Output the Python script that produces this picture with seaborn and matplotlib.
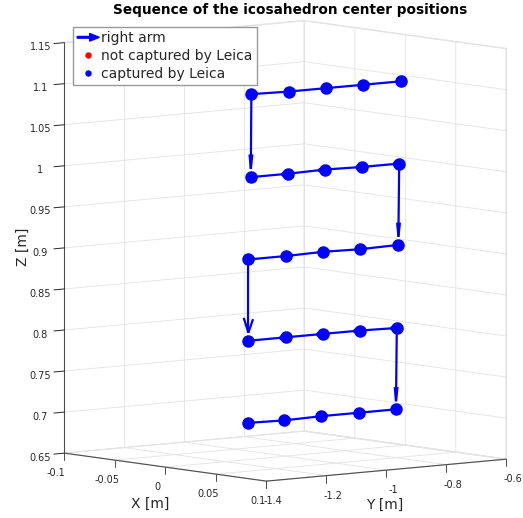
import numpy as np
import matplotlib
matplotlib.use("Agg")
import matplotlib.pyplot as plt
import seaborn as sns
from matplotlib.legend_handler import HandlerBase
from matplotlib.patches import FancyArrow
from matplotlib.ticker import FormatStrFormatter
from mpl_toolkits.mplot3d import proj3d

# Icosahedron center positions in acquisition order (snake over five levels)
pos_x = [0.04] * 25
pos_y = [-0.750, -0.875, -0.999, -1.122, -1.248,
         -1.250, -1.127, -1.004, -0.879, -0.755,
         -0.758, -0.885, -1.008, -1.131, -1.258,
         -1.258, -1.133, -1.010, -0.887, -0.763,
         -0.766, -0.890, -1.015, -1.138, -1.260]
pos_z = [1.105, 1.105, 1.105, 1.105, 1.106,
         1.005, 1.005, 1.006, 1.005, 1.005,
         0.906, 0.905, 0.906, 0.905, 0.905,
         0.806, 0.806, 0.806, 0.806, 0.805,
         0.706, 0.706, 0.706, 0.705, 0.706]
captured = [True] * 25

x_ticks = [-0.1, -0.05, 0, 0.05, 0.1]
y_ticks = [-1.4, -1.2, -1.0, -0.8, -0.6]
z_ticks = [0.65, 0.7, 0.75, 0.8, 0.85, 0.9, 0.95, 1.0, 1.05, 1.1, 1.15]

W, H, DPI = 523, 518, 100
grid_color = (0.89, 0.89, 0.89)
axis_color = (0.3, 0.3, 0.3)
text_color = (0.15, 0.15, 0.15)

sns.set_theme(style="white", rc={
    "grid.color": grid_color,
    "grid.linewidth": 0.6,
    "axes.edgecolor": axis_color,
    "xtick.color": text_color,
    "ytick.color": text_color,
    "xtick.major.width": 0.7,
    "ytick.major.width": 0.7,
    "axes.labelcolor": text_color,
})
plt.rcParams["font.family"] = ["DejaVu Sans"]

fig = plt.figure(figsize=(W / DPI, H / DPI), dpi=DPI)
ax = fig.add_subplot(projection="3d", proj_type="ortho")
ax.set_box_aspect((320, 309, 413))
ax.view_init(elev=6.47, azim=-39.1)

px = np.array(pos_x)
py = np.array(pos_y)
pz = np.array(pos_z)
cap = np.array(captured)

# arrows between consecutive positions
du, dv, dw = np.diff(px), np.diff(py), np.diff(pz)
vert = np.abs(dw) > np.abs(dv)
scale = 0.9
q_vert = ax.quiver(px[:-1][vert], py[:-1][vert], pz[:-1][vert],
                   du[vert] * scale, dv[vert] * scale, dw[vert] * scale,
                   color="blue", linewidth=1.6, arrow_length_ratio=0.2)
ax.quiver(px[:-1][~vert], py[:-1][~vert], pz[:-1][~vert],
          du[~vert] * scale, dv[~vert] * scale, dw[~vert] * scale,
          color="blue", linewidth=1.6, arrow_length_ratio=0.07)

h_miss, = ax.plot(px[~cap], py[~cap], pz[~cap], linestyle="none",
                  marker="o", color="red", markersize=8)
h_hit, = ax.plot(px[cap], py[cap], pz[cap], linestyle="none",
                 marker="o", color="blue", markersize=8)

# short vertical tick marks hanging below the two floor edges
tick_drop = 0.0085
for xt in x_ticks:
    ax.plot([xt, xt], [y_ticks[0], y_ticks[0]],
            [z_ticks[0], z_ticks[0] - tick_drop], color=axis_color, lw=0.7)
for yt in y_ticks:
    ax.plot([x_ticks[-1], x_ticks[-1]], [yt, yt],
            [z_ticks[0], z_ticks[0] - tick_drop], color=axis_color, lw=0.7)

ax.set_xlim(x_ticks[0], x_ticks[-1])
ax.set_ylim(y_ticks[0], y_ticks[-1])
ax.set_zlim(z_ticks[0], z_ticks[-1])
ax.set_xticks(x_ticks)
ax.set_yticks(y_ticks)
ax.set_zticks(z_ticks)
for axis in (ax.xaxis, ax.yaxis, ax.zaxis):
    axis.set_major_formatter(FormatStrFormatter("%g"))
    axis.set_pane_color((1, 1, 1, 1))
    axis.pane.set_edgecolor(grid_color)
    axis.line.set_color(axis_color)
    axis.line.set_linewidth(0.8)
    axis._axinfo["tick"]["inward_factor"] = 0.0
    axis._axinfo["tick"]["outward_factor"] = 0.0
    axis._axinfo["tick"]["color"] = axis_color
    axis._axinfo["grid"]["color"] = grid_color
    axis._axinfo["grid"]["linewidth"] = 0.6
    axis.set_rotate_label(False)
ax.zaxis.set_ticks_position("lower")
ax.zaxis.set_label_position("lower")
ax.zaxis._axinfo["tick"]["inward_factor"] = 0.55
ax.tick_params(labelsize=7, colors=text_color, pad=-0.5)
ax.tick_params(axis="z", pad=4)
ax.set_zlabel("Z [m]", fontsize=10, rotation=90, labelpad=0)

# horizontal axis titles sit centred under their edges
fig.text(150 / W, 1 - 504 / H, "X [m]", ha="center", va="center",
         fontsize=10, color=text_color)
fig.text(385 / W, 1 - 505 / H, "Y [m]", ha="center", va="center",
         fontsize=10, color=text_color)


class ArrowHandler(HandlerBase):
    def create_artists(self, legend, orig_handle, xdescent, ydescent,
                       width, height, fontsize, trans):
        y = height / 2 - ydescent
        arrow = FancyArrow(-xdescent, y, width, 0, width=1.2,
                           length_includes_head=True, head_width=5.5,
                           head_length=7, color=orig_handle.get_edgecolor()[0],
                           transform=trans)
        return [arrow]


fig.legend([q_vert, h_miss, h_hit],
           ["right arm", "not captured by Leica", "captured by Leica"],
           handler_map={type(q_vert): ArrowHandler()},
           loc="upper left", bbox_to_anchor=(73 / W, 1 - 27 / H),
           fontsize=10, markerscale=0.45, handlelength=1.6,
           handletextpad=0.12, borderpad=0.3, labelspacing=0.28,
           borderaxespad=0, fancybox=False, framealpha=1,
           edgecolor=(0.6, 0.6, 0.6))

fig.text(290.5 / W, 1 - 10 / H, "Sequence of the icosahedron center positions",
         ha="center", va="center", fontsize=9.8, fontweight="bold", color="black")

# place the plot box so its corners land where intended
corners = np.array([
    [x_ticks[0], y_ticks[0], z_ticks[0]],
    [x_ticks[-1], y_ticks[0], z_ticks[0]],
    [x_ticks[-1], y_ticks[-1], z_ticks[0]],
    [x_ticks[0], y_ticks[-1], z_ticks[0]],
    [x_ticks[0], y_ticks[0], z_ticks[-1]],
    [x_ticks[0], y_ticks[-1], z_ticks[-1]],
    [x_ticks[-1], y_ticks[-1], z_ticks[-1]],
])
targets = np.array([[64, 453], [266, 481], [506, 459], [305, 431],
                     [64, 43], [305, 21], [506.5, 48.5]], dtype=float)
targets[:, 1] = H - targets[:, 1]

fig.canvas.draw()
M = ax.get_proj()
x2, y2, _ = proj3d.proj_transform(corners[:, 0], corners[:, 1], corners[:, 2], M)
disp = ax.transData.transform(np.column_stack([x2, y2]))
bb = ax.get_position().transformed(fig.transFigure)
S = bb.width
C = np.array([bb.x0 + bb.width / 2, bb.y0 + bb.height / 2])
qn = (disp - C) / S
n = len(qn)
A = np.zeros((2 * n, 3))
A[:n, 0] = qn[:, 0]
A[:n, 1] = 1
A[n:, 0] = qn[:, 1]
A[n:, 2] = 1
rhs = np.concatenate([targets[:, 0], targets[:, 1]])
(S_new, cx_new, cy_new), *_ = np.linalg.lstsq(A, rhs, rcond=None)
ax.set_position([(cx_new - S_new / 2) / W, (cy_new - S_new / 2) / H,
                 S_new / W, S_new / H])

fig.savefig("out.png", dpi=DPI)
